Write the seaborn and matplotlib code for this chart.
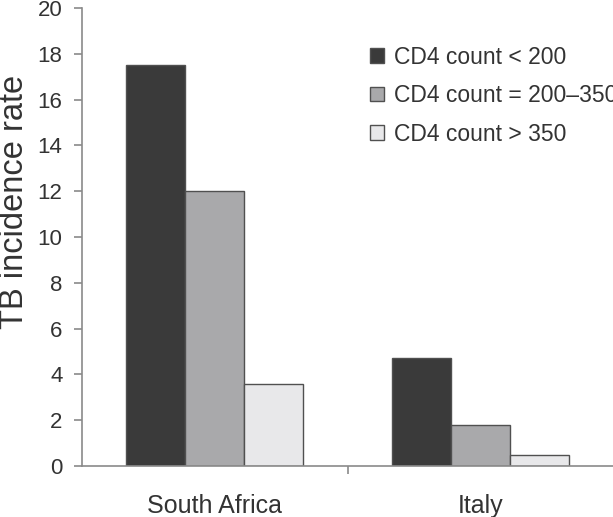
import matplotlib
matplotlib.use('Agg')
import matplotlib.pyplot as plt
import seaborn as sns
import pandas as pd

# values
countries = ['South Africa', 'Italy']
groups = ['CD4 count < 200', 'CD4 count = 200–350', 'CD4 count > 350']
rate_lt200 = [17.5, 4.7]
rate_200_350 = [12.0, 1.8]
rate_gt350 = [3.6, 0.5]
y_ticks = [0, 2, 4, 6, 8, 10, 12, 14, 16, 18, 20]

df = pd.DataFrame({
    'country': countries * 3,
    'group': [g for g in groups for _ in countries],
    'rate': rate_lt200 + rate_200_350 + rate_gt350,
})

sns.set_style('white')
plt.rcParams['font.family'] = ['Liberation Sans', 'DejaVu Sans']
text_col = '#333333'

fig = plt.figure(figsize=(6.13, 5.17), dpi=100)
ax = fig.add_axes([82 / 613, 51 / 517, 531 / 613, 458 / 517])

palette = ['#3a3a3a', '#a9a9ab', '#e8e8ea']
sns.barplot(data=df, x='country', y='rate', hue='group', hue_order=groups,
            order=countries, palette=palette, width=0.665, edgecolor='#505050',
            linewidth=1.0, saturation=1, ax=ax)

ax.set_xlim(-0.5, 1.5)
ax.set_ylim(0, 20)
ax.set_yticks(y_ticks)
ax.set_xticks([0, 0.5, 1])
ax.set_xticklabels(['South Africa', '', 'Italy'])
ax.set_xlabel('')
ax.set_ylabel('TB incidence rate', fontsize=23.5, color=text_col)
ax.yaxis.set_label_coords(-0.098, 0.576)

for s in ['top', 'right']:
    ax.spines[s].set_visible(False)
for s in ['left', 'bottom']:
    ax.spines[s].set_color('#8a8a8a')
    ax.spines[s].set_linewidth(1.2)

ax.tick_params(axis='y', which='both', left=True, length=6, width=1.2,
               color='#8a8a8a', labelsize=16, labelcolor=text_col, pad=8)
ax.tick_params(axis='x', bottom=True, length=6, width=1.2, color='#8a8a8a',
               labelsize=18, labelcolor=text_col, pad=14)
# only the separator tick gets a mark
for t, lab in zip(ax.xaxis.get_major_ticks(), ['South Africa', '', 'Italy']):
    if lab:
        t.tick1line.set_visible(False)

leg = ax.legend(loc='upper left', bbox_to_anchor=(0.525, 0.938), frameon=False,
                fontsize=16.5, handlelength=0.6, handleheight=0.6,
                handletextpad=0.45, labelspacing=0.68, borderaxespad=0)
for txt in leg.get_texts():
    txt.set_color(text_col)

fig.savefig('out.png', dpi=100)
